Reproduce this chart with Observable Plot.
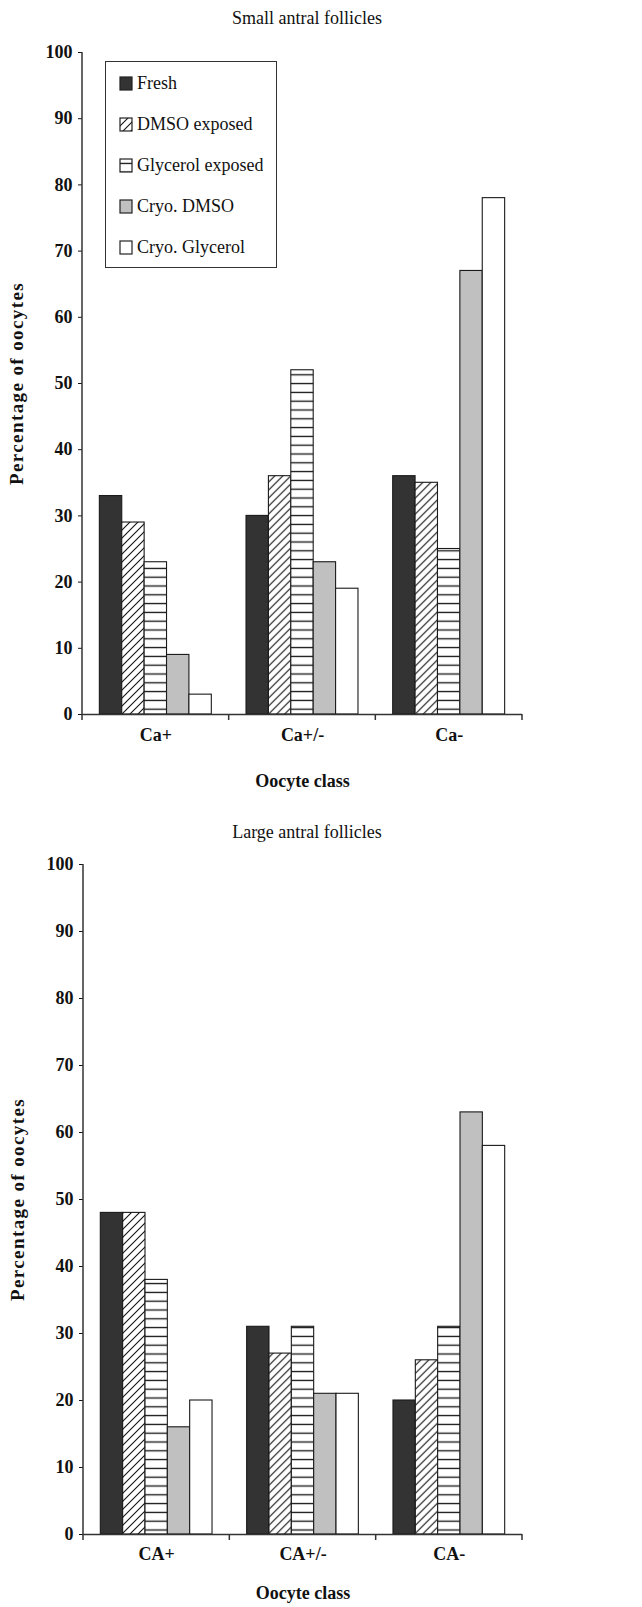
<!DOCTYPE html>
<html><head><meta charset="utf-8">
<script src="https://cdn.jsdelivr.net/npm/d3@7"></script>
<script src="https://cdn.jsdelivr.net/npm/@observablehq/plot@0.6"></script>
<style>
html,body{margin:0;padding:0;background:#fff;}
#page{position:relative;width:642px;height:1607px;overflow:hidden;font-family:"Liberation Serif","Times New Roman",serif;background:#fff;}
.title{position:absolute;left:0;width:614px;text-align:center;font-size:18px;line-height:20px;color:#111;}
.chart{position:absolute;left:0;}
#legend{position:absolute;left:105px;top:61px;width:172px;height:207px;box-sizing:border-box;border:1.5px solid #333;background:#fff;padding:1px 0 0 14px;}
#legend, #legend *{font-family:"Liberation Serif","Times New Roman",serif;font-size:18px;color:#111;}
#legend > div{margin:0;padding:0;}
#legend .lg-swatch{height:41px;display:flex;align-items:center;margin:0;padding:0;}
#legend svg{overflow:visible;margin-right:5px;}
#legend svg rect{stroke:#222;stroke-width:1.2px;}
g[aria-label="y-axis label"] text{letter-spacing:1.4px;font-size:19px;}
</style></head>
<body><div id="page">
<svg width="0" height="0" style="position:absolute">
<defs>
<pattern id="diag" patternUnits="userSpaceOnUse" width="8" height="8"><rect width="8" height="8" fill="#fff"/><path d="M0,8L8,0M-2,2L2,-2M6,10L10,6" stroke="#111" stroke-width="1.1"/></pattern>
<pattern id="horiz" patternUnits="userSpaceOnUse" width="8" height="8.8"><rect width="8" height="8.8" fill="#fff"/><path d="M0,4.4H8" stroke="#111" stroke-width="1.3"/></pattern>
</defs></svg>
<div class="title" style="top:8px">Small antral follicles</div>
<div class="chart" id="c1" style="top:36px"></div>
<div class="title" style="top:822px">Large antral follicles</div>
<div class="chart" id="c2" style="top:848px"></div>
<div id="legend"></div>
</div>
<script>
const treatments = ["Fresh", "DMSO exposed", "Glycerol exposed", "Cryo. DMSO", "Cryo. Glycerol"];
const fills = ["#333333", "url(#diag)", "url(#horiz)", "#c0c0c0", "#ffffff"];
const classesSmall = ["Ca+", "Ca+/-", "Ca-"];
const classesLarge = ["CA+", "CA+/-", "CA-"];
const yTicks = [0, 10, 20, 30, 40, 50, 60, 70, 80, 90, 100];

const smallFresh = [33, 30, 36];
const smallDMSO = [29, 36, 35];
const smallGlycerol = [23, 52, 25];
const smallCryoDMSO = [9, 23, 67];
const smallCryoGlycerol = [3, 19, 78];

const largeFresh = [48, 31, 20];
const largeDMSO = [48, 27, 26];
const largeGlycerol = [38, 31, 31];
const largeCryoDMSO = [16, 21, 63];
const largeCryoGlycerol = [20, 21, 58];

function makeChart(classes, series, o) {
  const rows = [];
  treatments.forEach((t, i) => series[i].forEach((v, j) => rows.push({cls: classes[j], treatment: t, value: v})));
  const chart = Plot.plot({
    width: 642, height: o.height,
    marginTop: 16, marginBottom: o.marginBottom, marginLeft: o.marginLeft, marginRight: 120,
    style: {fontFamily: '"Liberation Serif", "Times New Roman", serif', fontSize: "18px", fontWeight: "bold", color: "#111", background: "transparent", overflow: "visible"},
    facet: {data: rows, x: "cls"},
    fx: {domain: classes, paddingInner: 0, paddingOuter: 0, round: false, axis: "bottom", tickSize: 0, tickPadding: o.tickPadding, label: "Oocyte class", labelAnchor: "center", labelOffset: o.labelOffset, labelArrow: "none"},
    x: {domain: treatments, paddingInner: 0, paddingOuter: 0.775, round: false, axis: null},
    y: {domain: [0, 100], ticks: yTicks, tickSize: 4, tickPadding: 6, label: "Percentage of oocytes", labelAnchor: "center", labelOffset: 73, labelArrow: "none"},
    color: {type: "ordinal", domain: treatments, range: fills},
    marks: [
      Plot.barY(rows, {x: "treatment", y: "value", fill: "treatment", stroke: "#1a1a1a", strokeWidth: 1.1}),
      Plot.ruleY([0], {stroke: "#333", strokeWidth: 1.5})
    ]
  });
  try {
    const fx = chart.scale("fx"), y = chart.scale("y");
    let apply = fx.apply, bw = fx.bandwidth;
    if (!apply) {
      const b = d3.scaleBand(fx.domain, fx.range).paddingInner(fx.paddingInner || 0).paddingOuter(fx.paddingOuter || 0);
      apply = b; bw = b.bandwidth();
    }
    const edges = fx.domain.map(d => apply(d));
    edges.push(apply(fx.domain[fx.domain.length - 1]) + bw);
    const y0 = y.apply(0), yTop = y.apply(100);
    const g = d3.select(chart).append("g").attr("stroke", "#333").attr("stroke-width", 1.5);
    g.append("line").attr("x1", edges[0]).attr("x2", edges[0]).attr("y1", yTop).attr("y2", y0 + 6);
    edges.slice(1).forEach(x => g.append("line").attr("x1", x).attr("x2", x).attr("y1", y0).attr("y2", y0 + 6));
  } catch (e) { console.error(e); }
  return chart;
}

document.getElementById("c1").append(makeChart(classesSmall,
  [smallFresh, smallDMSO, smallGlycerol, smallCryoDMSO, smallCryoGlycerol],
  {height: 770, marginBottom: 92, marginLeft: 82, tickPadding: 14, labelOffset: 72}));
document.getElementById("c2").append(makeChart(classesLarge,
  [largeFresh, largeDMSO, largeGlycerol, largeCryoDMSO, largeCryoGlycerol],
  {height: 759, marginBottom: 73, marginLeft: 83, tickPadding: 13, labelOffset: 64}));

document.getElementById("legend").append(Plot.legend({
  color: {type: "ordinal", domain: treatments, range: fills},
  legend: "swatches", columns: 1, swatchWidth: 12, swatchHeight: 13, className: "lg"
}));
</script>
</body></html>
